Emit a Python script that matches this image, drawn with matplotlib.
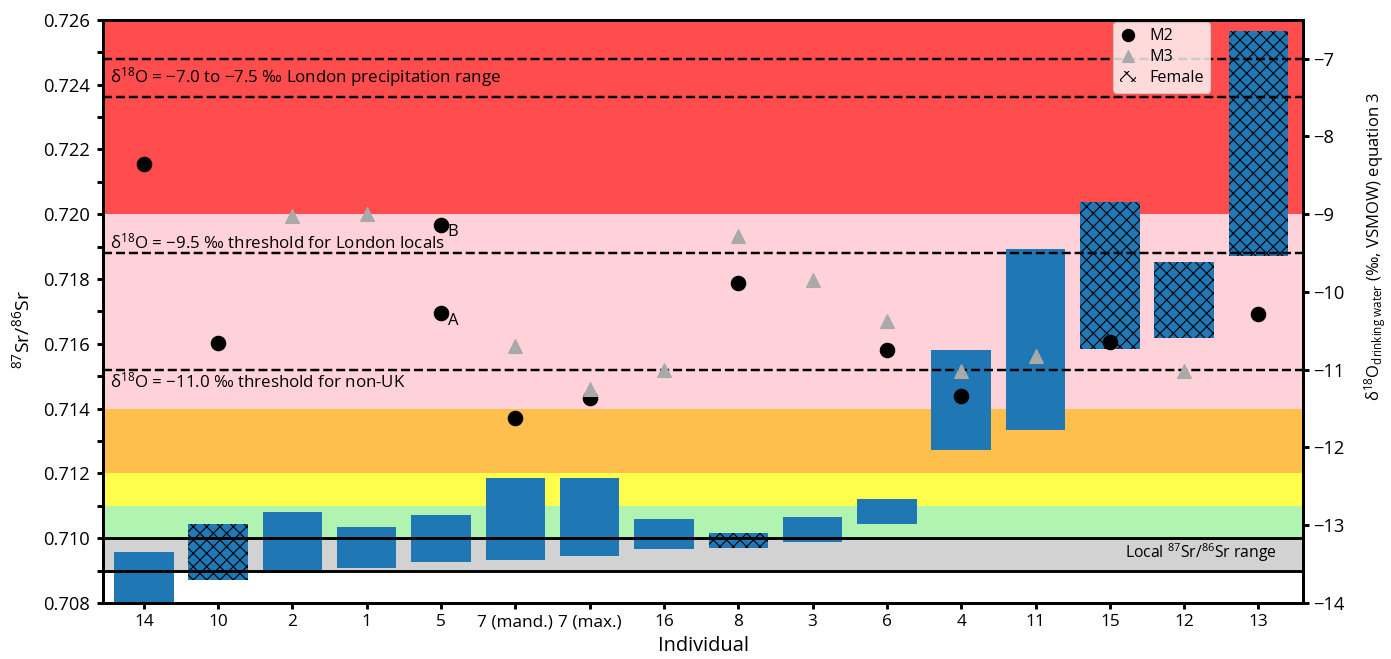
import matplotlib
matplotlib.use('Agg')
import matplotlib.pyplot as plt
import numpy as np
from matplotlib.patches import Patch
from matplotlib.lines import Line2D
from matplotlib.ticker import MultipleLocator, FormatStrFormatter

plt.rcParams['font.family'] = ['Open Sans', 'DejaVu Sans']
plt.rcParams['mathtext.fontset'] = 'custom'
plt.rcParams['mathtext.rm'] = 'Open Sans'
plt.rcParams['mathtext.it'] = 'Open Sans:italic'
plt.rcParams['mathtext.bf'] = 'Open Sans:bold'
plt.rcParams['hatch.linewidth'] = 1.0

# ---------------- data ----------------
individuals = ['14', '10', '2', '1', '5', '7 (mand.)', '7 (max.)', '16', '8',
               '3', '6', '4', '11', '15', '12', '13']
# delta18O drinking water ranges (right axis)
d18o_low = [-14.0, -13.70, -13.61, -13.55, -13.47, -13.45, -13.39, -13.30, -13.29,
            -13.21, -12.98, -12.03, -11.77, -10.73, -10.59, -9.54]
d18o_high = [-13.34, -12.98, -12.83, -13.02, -12.87, -12.39, -12.39, -12.92, -13.10,
             -12.89, -12.66, -10.75, -9.45, -8.85, -9.62, -6.64]
female = [False, True, False, False, False, False, False, False, True,
          False, False, False, False, True, True, True]

# 87Sr/86Sr (left axis)
m2_ind = ['14', '10', '5', '5', '7 (mand.)', '7 (max.)', '8', '6', '4', '15', '13']
m2_sr = [0.72155, 0.71602, 0.71968, 0.71695, 0.71370, 0.71434, 0.71786, 0.71580,
         0.71440, 0.71606, 0.71693]
m3_ind = ['2', '1', '7 (mand.)', '7 (max.)', '16', '8', '3', '6', '4', '11', '12']
m3_sr = [0.71995, 0.72000, 0.71592, 0.71461, 0.71520, 0.71931, 0.71798, 0.71669,
         0.71515, 0.71561, 0.71515]
point_labels = [('5', 0.71968, 'B'), ('5', 0.71695, 'A')]

# Sr background bands
band_low = [0.720, 0.714, 0.712, 0.711, 0.710, 0.709]
band_high = [0.726, 0.720, 0.714, 0.712, 0.711, 0.710]
band_colors = ['red', 'pink', 'orange', 'yellow', 'lightgreen', 'silver']
local_sr = [0.709, 0.710]

# delta18O reference lines
d18o_lines = [-7.0, -7.5, -9.5, -11.0]
d18o_texts = [(-7.24, r'δ$^{18}$O = −7.0 to −7.5 ‰ London precipitation range'),
              (-9.36, r'δ$^{18}$O = −9.5 ‰ threshold for London locals'),
              (-11.15, r'δ$^{18}$O = −11.0 ‰ threshold for non-UK')]

# ---------------- figure ----------------
DPI = 80
W, H = 1391, 659
fig = plt.figure(figsize=(W / DPI, H / DPI), dpi=DPI)
pos = [103 / W, 1 - 603 / H, 1200 / W, (603 - 19.7) / H]
ax1 = fig.add_axes(pos)
ax2 = ax1.twinx()
ax3 = fig.add_axes(pos, sharex=ax1, sharey=ax1)
ax3.set_zorder(ax2.get_zorder() + 1)
ax3.patch.set_visible(False)
ax3.set_frame_on(False)
ax3.axis('off')

xpos = {name: i for i, name in enumerate(individuals)}
x = np.arange(len(individuals))

# bands
for lo, hi, c in zip(band_low, band_high, band_colors):
    ax1.axhspan(lo, hi, color=c, alpha=0.7, lw=0, zorder=0)

ax1.text(15.25, 0.70955, r'Local $^{87}$Sr/$^{86}$Sr range', ha='right', va='center',
         fontsize=14.2)

# bars
lo = np.array(d18o_low)
hi = np.array(d18o_high)
fem = np.array(female)
ax2.bar(x[~fem], (hi - lo)[~fem], bottom=lo[~fem], width=0.8, color='#1f77b4',
        linewidth=0, zorder=2)
ax2.bar(x[fem], (hi - lo)[fem], bottom=lo[fem], width=0.8, color='#1f77b4',
        edgecolor='black', linewidth=0, hatch='xx', zorder=2)

for v in d18o_lines:
    ax2.axhline(v, color='black', ls='--', lw=2.2, zorder=3)
for yv, t in d18o_texts:
    ax2.text(-0.46, yv, t, ha='left', va='center', fontsize=15.2, zorder=4)

# Sr local lines + points
for v in local_sr:
    ax3.axhline(v, color='black', lw=2.6, zorder=3)
ax3.plot([xpos[n] for n in m2_ind], m2_sr, 'o', color='black', ms=13, ls='none',
         zorder=5)
ax3.plot([xpos[n] for n in m3_ind], m3_sr, '^', color='darkgray', ms=12.5, ls='none',
         zorder=6)
for n, v, t in point_labels:
    ax3.annotate(t, (xpos[n], v), xytext=(6, -7), textcoords='offset points',
                 ha='left', va='center', fontsize=15)

handles = [Line2D([], [], marker='o', color='black', ls='none', ms=11),
           Line2D([], [], marker='^', color='darkgray', ls='none', ms=11),
           Patch(facecolor='none', edgecolor='black', linewidth=0, hatch='xx')]
ax3.legend(handles, ['M2', 'M3', 'Female'], loc='upper right',
           bbox_to_anchor=((1210 - 103) / 1200, 0.996), borderaxespad=0,
           fontsize=14.5, handlelength=1.0, labelspacing=0.3, handletextpad=0.8,
           borderpad=0.4)

# axes
ax1.set_xlim(-0.55, 15.6)
ax1.set_ylim(0.708, 0.726)
ax2.set_ylim(-14, -6.5)
ax1.set_xticks(x)
ax1.set_xticklabels(individuals)
ax1.yaxis.set_major_locator(MultipleLocator(0.002))
ax1.yaxis.set_minor_locator(MultipleLocator(0.001))
ax1.yaxis.set_major_formatter(FormatStrFormatter('%.3f'))
ax2.set_yticks(np.arange(-14, -6, 1))

for ax in (ax1, ax2):
    for s in ax.spines.values():
        s.set_linewidth(2.6)
ax1.tick_params(axis='y', which='both', width=2.6, length=5, labelsize=16.5, pad=7)
ax1.tick_params(axis='x', which='both', width=2.6, length=5, labelsize=15.5, pad=5)
ax2.tick_params(axis='y', which='both', width=2.6, length=5, labelsize=16.5, pad=4)

ax1.set_xlabel('Individual', fontsize=18, labelpad=5)
ax1.set_ylabel(r'$^{87}$Sr/$^{86}$Sr', fontsize=17.5)
ax1.yaxis.set_label_coords(-0.058, 0.468)
ax2.set_ylabel(r'δ$^{18}$O$_{\mathrm{drinking\ water}}$ (‰, VSMOW) equation 3',
               fontsize=15)
ax2.yaxis.set_label_coords(1.049, 0.612)

fig.savefig('out.png', dpi=DPI)
